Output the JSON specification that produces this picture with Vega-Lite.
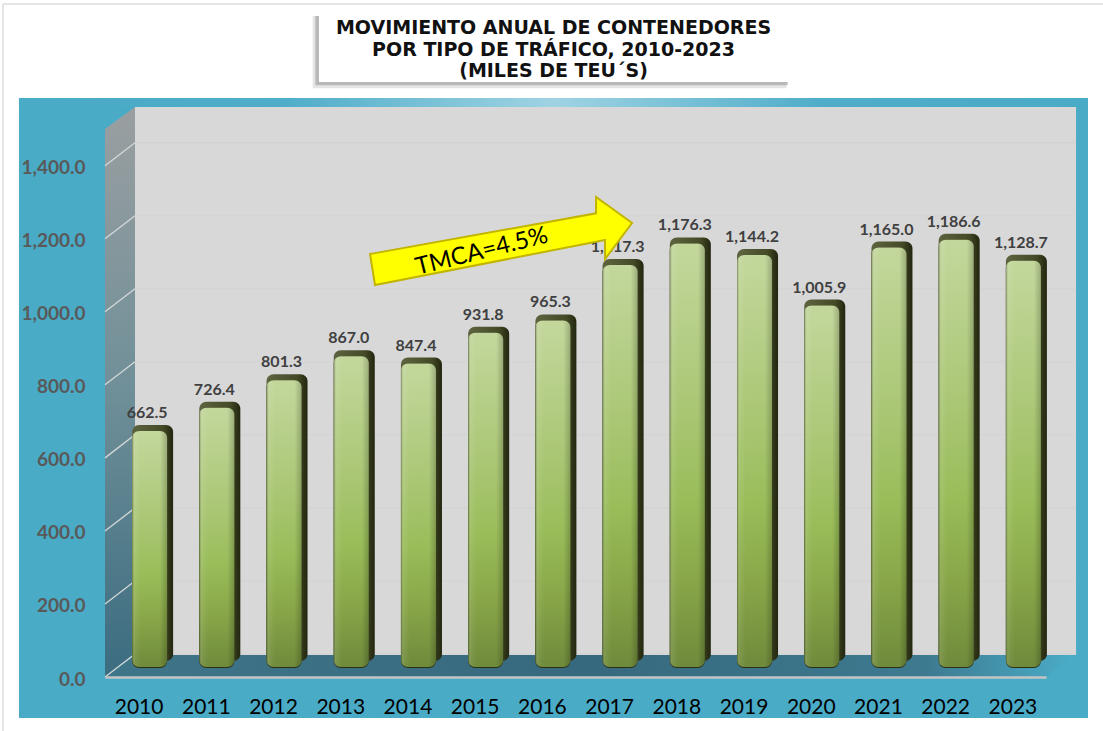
{
"$schema":"https://vega.github.io/schema/vega-lite/v6.json",
"width":941,"height":570,
"autosize":"none",
"padding":{"left":105,"top":107,"right":57,"bottom":54},
"background":"#ffffff",
"config":{"view":{"stroke":null},"scale":{"continuousPadding":0}},
"datasets":{
"one":[{}],
"heading":[{"heading":"MOVIMIENTO ANUAL DE CONTENEDORES\nPOR TIPO DE TRÁFICO, 2010-2023\n(MILES DE TEU´S)"}],
"bars":[{"year":2010,"value":662.5},{"year":2011,"value":726.4},{"year":2012,"value":801.3},{"year":2013,"value":867.0},{"year":2014,"value":847.4},{"year":2015,"value":931.8},{"year":2016,"value":965.3},{"year":2017,"value":1117.3},{"year":2018,"value":1176.3},{"year":2019,"value":1144.2},{"year":2020,"value":1005.9},{"year":2021,"value":1165.0},{"year":2022,"value":1186.6},{"year":2023,"value":1128.7}],
"grid":[{"tick":0,"back":63},{"tick":200,"back":263},{"tick":400,"back":463},{"tick":600,"back":663},{"tick":800,"back":863},{"tick":1000,"back":1063},{"tick":1200,"back":1263},{"tick":1400,"back":1463}],
"wall":[{"xp":2009.5,"lo":0,"hi":1500.4},{"xp":2009.946,"lo":63,"hi":1560.7}],
"floor":[{"xp":2009.5,"lo":0,"hi":0},{"xp":2009.946,"lo":0,"hi":60},{"xp":2023.5,"lo":0,"hi":60},{"xp":2023.86,"lo":55,"hi":60}],
"arrow":[{"xp":2013.443,"hi":1158.2,"lo":1158.2},{"xp":2013.517,"hi":1160.6,"lo":1073.3},{"xp":2016.805,"hi":1269.6,"lo":1191.6},{"xp":2016.806,"hi":1314.2,"lo":1191.6},{"xp":2016.939,"hi":1296.4,"lo":1196.5},{"xp":2016.94,"hi":1296.4,"lo":1144.5},{"xp":2017.341,"hi":1243.1,"lo":1243.1}]
},
"layer":[
{"data":{"name":"one"},"mark":{"type":"rule","color":"#dddddd","strokeWidth":1.5},"encoding":{"x":{"datum":2007.982,"type":"quantitative","scale":{"domain":[2009.5,2023.5]}},"y":{"datum":1842.7,"type":"quantitative","scale":{"domain":[0,1560.7]}},"y2":{"datum":-200}}},
{"data":{"name":"one"},"mark":{"type":"rule","color":"#dddddd","strokeWidth":1.5},"encoding":{"x":{"datum":2007.982,"type":"quantitative","scale":{"domain":[2009.5,2023.5]}},"x2":{"datum":2024.5},"y":{"datum":1842.7,"type":"quantitative","scale":{"domain":[0,1560.7]}}}},
{"data":{"name":"one"},"mark":{"type":"rect","color":"#4aabc7"},"encoding":{"x":{"datum":2008.22,"type":"quantitative","scale":{"domain":[2009.5,2023.5]}},"x2":{"datum":2024.125},"y":{"datum":1585.3,"type":"quantitative","scale":{"domain":[0,1560.7]}},"y2":{"datum":-112.3}}},
{"data":{"name":"one"},"mark":{"type":"rect","color":{"gradient":"linear","x1":0,"y1":0,"x2":1,"y2":0,"stops":[{"offset":0,"color":"#4aabc7"},{"offset":0.25,"color":"#4fadc9"},{"offset":0.5,"color":"#9fd3e3"},{"offset":0.75,"color":"#4fadc9"},{"offset":1,"color":"#4aabc7"}]}},"encoding":{"x":{"datum":2008.22,"type":"quantitative","scale":{"domain":[2009.5,2023.5]}},"x2":{"datum":2024.125},"y":{"datum":1585.3,"type":"quantitative","scale":{"domain":[0,1560.7]}},"y2":{"datum":1560.7}}},
{"data":{"name":"one"},"mark":{"type":"rect","color":"#d8d8d8"},"encoding":{"x":{"datum":2009.946,"type":"quantitative","scale":{"domain":[2009.5,2023.5]}},"x2":{"datum":2023.947},"y":{"datum":1560.7,"type":"quantitative","scale":{"domain":[0,1560.7]}},"y2":{"datum":60}}},
{"data":{"name":"wall"},"mark":{"type":"area","orient":"vertical","color":{"gradient":"linear","x1":0,"y1":0,"x2":0,"y2":1,"stops":[{"offset":0,"color":"#9a9fa1"},{"offset":0.5,"color":"#6f8f98"},{"offset":1,"color":"#3b6c80"}]}},"encoding":{"x":{"field":"xp","type":"quantitative","scale":{"domain":[2009.5,2023.5]}},"y":{"field":"hi","type":"quantitative","scale":{"domain":[0,1560.7]}},"y2":{"field":"lo"}}},
{"data":{"name":"floor"},"mark":{"type":"area","orient":"vertical","color":{"gradient":"linear","x1":0,"y1":0,"x2":1,"y2":0,"stops":[{"offset":0,"color":"#3f7589"},{"offset":0.5,"color":"#37697e"},{"offset":0.85,"color":"#3d7a90"},{"offset":1,"color":"#4aabc7"}]}},"encoding":{"x":{"field":"xp","type":"quantitative","scale":{"domain":[2009.5,2023.5]}},"y":{"field":"hi","type":"quantitative","scale":{"domain":[0,1560.7]}},"y2":{"field":"lo"}}},
{"data":{"name":"grid"},"mark":{"type":"rule","color":"#d2d2d2","strokeWidth":1},"encoding":{"x":{"datum":2009.946,"type":"quantitative","scale":{"domain":[2009.5,2023.5]}},"x2":{"datum":2023.947},"y":{"field":"back","type":"quantitative","scale":{"domain":[0,1560.7]}}}},
{"data":{"name":"grid"},"mark":{"type":"rule","color":"#d4d8d8","strokeWidth":1.3},"encoding":{"x":{"datum":2009.5,"type":"quantitative","scale":{"domain":[2009.5,2023.5]}},"x2":{"datum":2009.946},"y":{"field":"tick","type":"quantitative","scale":{"domain":[0,1560.7]}},"y2":{"field":"back"}}},
{"data":{"name":"bars"},"mark":{"type":"bar","orient":"vertical","width":41,"xOffset":14,"yOffset":-10,"y2Offset":-16,"cornerRadius":7,"color":{"gradient":"linear","x1":0,"y1":0,"x2":1,"y2":0,"stops":[{"offset":0,"color":"#5f6440"},{"offset":0.75,"color":"#444a26"},{"offset":1,"color":"#22260f"}]}},"encoding":{"x":{"field":"year","type":"quantitative","scale":{"domain":[2009.5,2023.5]},"axis":{"values":[2010,2011,2012,2013,2014,2015,2016,2017,2018,2019,2020,2021,2022,2023],"format":"d","title":null,"zindex":1,"grid":false,"ticks":false,"domainColor":"#c4c4c4","domainWidth":2.5,"labelFont":"Lato","labelFontSize":21,"labelColor":"#000000","labelPadding":19,"labelFlush":false,"labelOverlap":false}},"y":{"field":"value","type":"quantitative","scale":{"domain":[0,1560.7]},"axis":{"values":[0,200,400,600,800,1000,1200,1400],"format":",.1f","title":null,"zindex":1,"grid":false,"ticks":false,"domain":false,"labelFont":"Lato","labelFontWeight":"bold","labelFontSize":19,"labelColor":"#595959","labelPadding":20,"labelOffset":2}},"y2":{"datum":0}}},
{"data":{"name":"bars"},"mark":{"type":"bar","orient":"vertical","width":35,"xOffset":11,"yOffset":-4,"y2Offset":-9,"cornerRadius":7,"color":"#2c3015"},"encoding":{"x":{"field":"year","type":"quantitative","scale":{"domain":[2009.5,2023.5]}},"y":{"field":"value","type":"quantitative","scale":{"domain":[0,1560.7]}},"y2":{"datum":0}}},
{"data":{"name":"bars"},"mark":{"type":"bar","orient":"vertical","width":35,"xOffset":11,"yOffset":-4,"y2Offset":-10,"cornerRadius":7,"color":{"gradient":"linear","x1":0,"y1":0,"x2":0,"y2":1,"stops":[{"offset":0,"color":"#c3d79c"},{"offset":0.4,"color":"#a9c673"},{"offset":0.6,"color":"#9abd5a"},{"offset":0.8,"color":"#88a648"},{"offset":1,"color":"#6f8a3b"}]}},"encoding":{"x":{"field":"year","type":"quantitative","scale":{"domain":[2009.5,2023.5]}},"y":{"field":"value","type":"quantitative","scale":{"domain":[0,1560.7]}},"y2":{"datum":0}}},
{"data":{"name":"bars"},"mark":{"type":"bar","orient":"vertical","width":35,"xOffset":11,"yOffset":-4,"y2Offset":-10,"cornerRadius":7,"color":{"gradient":"linear","x1":0,"y1":0,"x2":1,"y2":0,"stops":[{"offset":0,"color":"rgba(50,60,20,0.5)"},{"offset":0.08,"color":"rgba(255,255,255,0.08)"},{"offset":0.25,"color":"rgba(255,255,255,0)"},{"offset":0.8,"color":"rgba(0,0,0,0)"},{"offset":1,"color":"rgba(0,0,0,0.2)"}]}},"encoding":{"x":{"field":"year","type":"quantitative","scale":{"domain":[2009.5,2023.5]}},"y":{"field":"value","type":"quantitative","scale":{"domain":[0,1560.7]}},"y2":{"datum":0}}},
{"data":{"name":"bars"},"mark":{"type":"text","font":"Lato","fontWeight":"bold","fontSize":16,"color":"#404040","xOffset":8.5,"yOffset":-22,"baseline":"middle"},"encoding":{"x":{"field":"year","type":"quantitative","scale":{"domain":[2009.5,2023.5]}},"y":{"field":"value","type":"quantitative","scale":{"domain":[0,1560.7]}},"text":{"field":"value","type":"quantitative","format":",.1f"}}},
{"data":{"name":"arrow"},"mark":{"type":"area","orient":"vertical","color":"#ffff00","stroke":"#c2b500","strokeWidth":2},"encoding":{"x":{"field":"xp","type":"quantitative","scale":{"domain":[2009.5,2023.5]}},"y":{"field":"hi","type":"quantitative","scale":{"domain":[0,1560.7]}},"y2":{"field":"lo"}}},
{"data":{"name":"one"},"mark":{"type":"text","font":"Lato","fontSize":24,"color":"#000000","angle":346,"align":"center","baseline":"middle"},"encoding":{"x":{"datum":2015.105,"type":"quantitative","scale":{"domain":[2009.5,2023.5]}},"y":{"datum":1164.5,"type":"quantitative","scale":{"domain":[0,1560.7]}},"text":{"value":"TMCA=4.5%"}}},
{"data":{"name":"one"},"mark":{"type":"rect","color":"#777777","opacity":0.2},"encoding":{"x":{"datum":2012.59,"type":"quantitative","scale":{"domain":[2009.5,2023.5]}},"x2":{"datum":2019.64},"y":{"datum":1810,"type":"quantitative","scale":{"domain":[0,1560.7]}},"y2":{"datum":1612}}},
{"data":{"name":"one"},"mark":{"type":"rect","color":"#666666","opacity":0.35},"encoding":{"x":{"datum":2012.63,"type":"quantitative","scale":{"domain":[2009.5,2023.5]}},"x2":{"datum":2019.66},"y":{"datum":1810,"type":"quantitative","scale":{"domain":[0,1560.7]}},"y2":{"datum":1620}}},
{"data":{"name":"one"},"mark":{"type":"rect","color":"#ffffff"},"encoding":{"x":{"datum":2012.684,"type":"quantitative","scale":{"domain":[2009.5,2023.5]}},"x2":{"datum":2019.662},"y":{"datum":1818,"type":"quantitative","scale":{"domain":[0,1560.7]}},"y2":{"datum":1629}}},
{"data":{"name":"heading"},"mark":{"type":"text","font":"DejaVu Sans","fontWeight":"bold","fontSize":19,"lineHeight":21.5,"lineBreak":"\n","color":"#111111","align":"center","baseline":"middle"},"encoding":{"x":{"datum":2016.173,"type":"quantitative","scale":{"domain":[2009.5,2023.5]}},"y":{"datum":1777,"type":"quantitative","scale":{"domain":[0,1560.7]}},"text":{"field":"heading","type":"nominal"}}}
]
}
